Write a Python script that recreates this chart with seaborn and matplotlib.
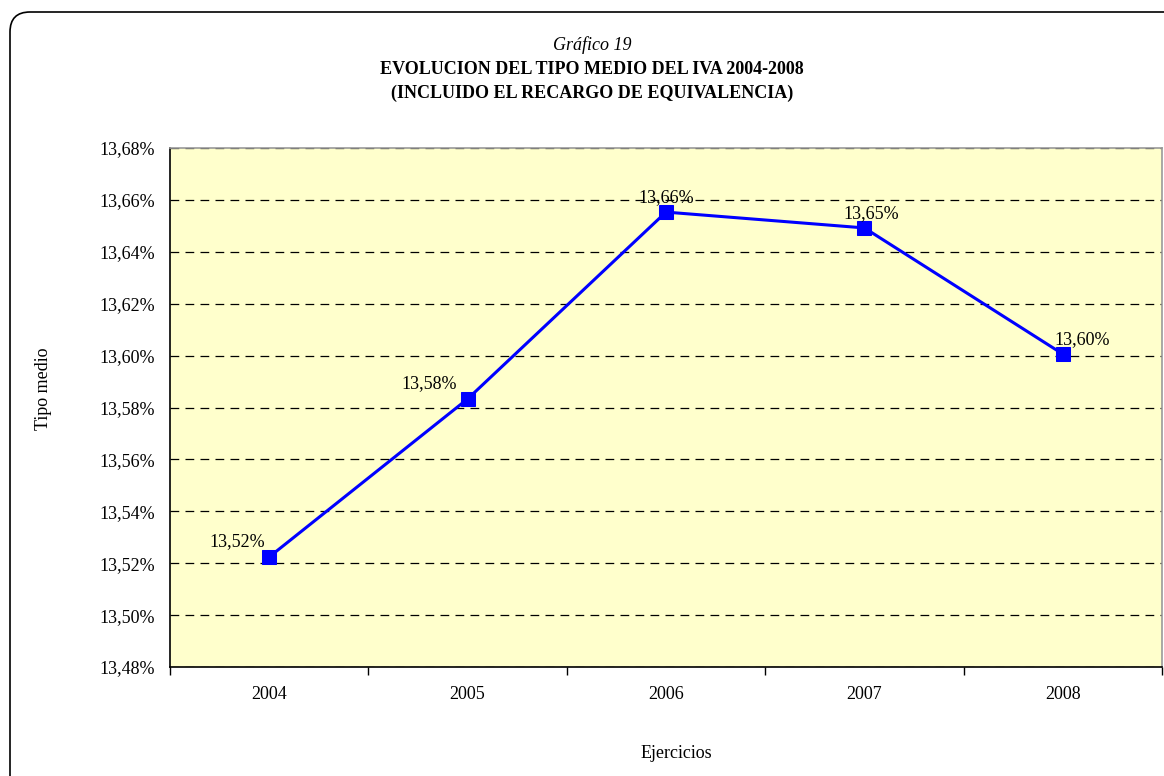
import matplotlib

matplotlib.use("Agg")
import matplotlib.pyplot as plt
from matplotlib.patches import FancyBboxPatch
from matplotlib.ticker import FixedLocator, FuncFormatter
import numpy as np
import pandas as pd
import seaborn as sns

# datos del gráfico
years = ["2004", "2005", "2006", "2007", "2008"]
tipo_medio = [13.5224, 13.5833, 13.6553, 13.6492, 13.6006]
value_labels = ["13,52%", "13,58%", "13,66%", "13,65%", "13,60%"]
y_ticks = [13.48, 13.50, 13.52, 13.54, 13.56, 13.58, 13.60, 13.62, 13.64, 13.66, 13.68]

# desplazamiento de las etiquetas (px)
label_offsets = [(-32, 15), (-38, 15), (0, 15), (7, 14), (19, 14)]

sns.set_theme(style="white")
plt.rcParams["font.family"] = ["Liberation Serif", "DejaVu Serif"]
plt.rcParams["text.color"] = "black"
plt.rcParams["axes.labelcolor"] = "black"
plt.rcParams["xtick.color"] = "black"
plt.rcParams["ytick.color"] = "black"

df = pd.DataFrame({"pos": np.arange(len(years)), "tipo": tipo_medio})

fig = plt.figure(figsize=(11.64, 7.76), dpi=100)
ax = fig.add_axes([170 / 1164, 1 - 667 / 776, 992 / 1164, 519 / 776])
ax.set_facecolor("#FFFFCC")

# marco redondeado de la figura
frame = FancyBboxPatch(
    (0.10, -0.5), 12.0, 7.64 + 0.5,
    boxstyle="round,pad=0,rounding_size=0.2",
    transform=fig.dpi_scale_trans, fill=False, edgecolor="black", linewidth=1.2,
    clip_on=False,
)
fig.patches.append(frame)

sns.lineplot(
    data=df, x="pos", y="tipo", ax=ax, color="#0000FF", linewidth=2.2,
    marker="s", markersize=10, markeredgecolor="#0000FF", zorder=5,
)

for i, (v, lab) in enumerate(zip(tipo_medio, value_labels)):
    ax.annotate(lab, (i, v), xytext=label_offsets[i], textcoords="offset pixels",
                ha="center", va="center", fontsize=13, color="black", zorder=6)

ax.set_xlim(-0.5, len(years) - 0.5)
ax.set_ylim(y_ticks[0], y_ticks[-1])
ax.yaxis.set_major_locator(FixedLocator(y_ticks))
ax.yaxis.set_major_formatter(FuncFormatter(lambda v, p: f"{v:.2f}%".replace(".", ",")))
ax.set_xticks(range(len(years)))
ax.set_xticklabels(years)
ax.xaxis.set_minor_locator(FixedLocator(np.arange(-0.5, len(years), 1.0)))

ax.tick_params(axis="y", which="major", direction="out", length=6, width=1,
               color="black", labelsize=13, pad=5)
ax.tick_params(axis="x", which="major", length=0, labelsize=13, pad=14)
ax.tick_params(axis="x", which="minor", direction="out", length=6, width=1,
               color="black", bottom=True)

ax.yaxis.grid(True, linestyle=(0, (7, 5)), color="black", linewidth=0.9)
ax.xaxis.grid(False)
ax.set_axisbelow(True)

for side in ["left", "bottom"]:
    ax.spines[side].set_color("black")
    ax.spines[side].set_linewidth(1.2)
for side in ["top", "right"]:
    ax.spines[side].set_color("#999999")
    ax.spines[side].set_linewidth(1.2)

ax.set_xlabel("Ejercicios", fontsize=13, va="center")
ax.set_ylabel("Tipo medio", fontsize=13, va="center")
ax.xaxis.set_label_coords(0.51, -0.166)
ax.yaxis.set_label_coords(-0.128, 0.536)

fig.text(592 / 1164, 1 - 45 / 776, "Gráfico 19", ha="center", va="center",
         fontsize=13, style="italic")
fig.text(592 / 1164, 1 - 70 / 776, "EVOLUCION DEL TIPO MEDIO DEL IVA 2004-2008",
         ha="center", va="center", fontsize=13, weight="bold")
fig.text(592 / 1164, 1 - 93 / 776, "(INCLUIDO EL RECARGO DE EQUIVALENCIA)",
         ha="center", va="center", fontsize=13, weight="bold")

fig.savefig("out.png", dpi=100)
